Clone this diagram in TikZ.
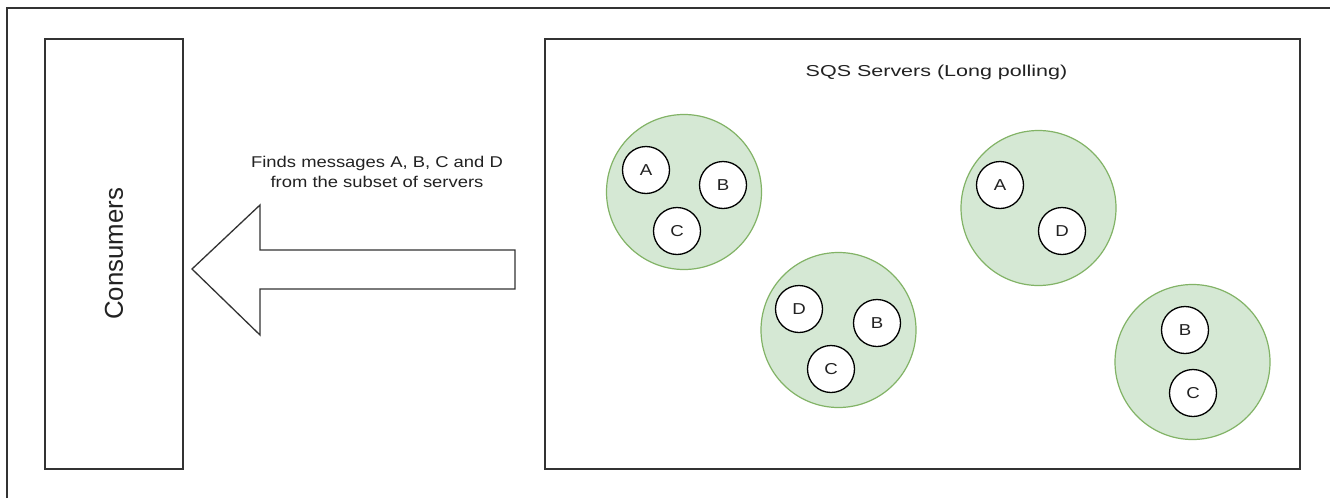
\documentclass[tikz,border=0pt]{standalone}
\usepackage{fontspec}
\setmainfont{Liberation Sans}
\newfontfamily\lblfont[FakeStretch=1.18]{Liberation Sans}
\newfontfamily\ttlfont[FakeStretch=1.36]{Liberation Sans}
\definecolor{edge}{HTML}{333333}
\definecolor{txt}{HTML}{222222}
\definecolor{srvfill}{HTML}{D5E8D4}
\definecolor{srvline}{HTML}{82B366}
\tikzset{
  frame/.style={draw=edge, line width=1.3pt},
  box/.style={draw=edge, line width=1.3pt, fill=white, inner sep=0pt},
  server/.style={circle, draw=srvline, fill=srvfill, line width=1.2pt, minimum size=155pt, inner sep=0pt},
  msg/.style={circle, draw=black, fill=white, line width=1.3pt, minimum size=47pt, inner sep=0pt,
              text=txt, font=\lblfont\fontsize{15.8}{18}\selectfont},
  bigarrow/.style={draw=edge, line width=1.3pt, fill=white, line join=miter},
}
\begin{document}
\begin{tikzpicture}[x=1pt, y=-1pt]
\useasboundingbox (0,0) rectangle (1330,498);
\fill[white] (0,0) rectangle (1330,498);
% outer frame (top and left edges)
\coordinate (fbl) at (7,498);
\coordinate (ftl) at (7,8);
\coordinate (ftr) at (1330,8);
\draw[frame] (fbl) -- (ftl) -- (ftr);

% consumers box
\node[box, minimum width=138pt, minimum height=430pt] (cons) at (114,254) {};
\node[rotate=90, text=txt, font=\fontsize{25.8}{30}\selectfont, inner sep=0pt] (consLabel) at (cons.center) {Consumers};

% SQS box
\node[box, minimum width=755pt, minimum height=430pt] (sqs) at (922.5,254) {};
\node[text=txt, font=\ttlfont\fontsize{15.8}{19}\selectfont, anchor=base, inner sep=0pt] (sqsTitle) at (936.5,76) {SQS Servers (Long polling)};

% block arrow
\draw[bigarrow] (515,250) -- (260,250) -- (260,205) -- (192,269) -- (260,335) -- (260,289) -- (515,289) -- cycle;
\node[text=txt, font=\lblfont\fontsize{15.6}{20}\selectfont, align=center, anchor=north, inner sep=0pt] (arrowLabel) at (377,156)
  {Finds messages A, B, C and D\\from the subset of servers};

% servers
\node[server] (s1) at (684,192) {};
\node[msg] (s1a) at (646,170) {A};
\node[msg] (s1b) at (723,185) {B};
\node[msg] (s1c) at (677,231) {C};

\node[server] (s2) at (838.5,330) {};
\node[msg] (s2d) at (799,309) {D};
\node[msg] (s2b) at (877,323) {B};
\node[msg] (s2c) at (831,369) {C};

\node[server] (s3) at (1038.5,208) {};
\node[msg] (s3a) at (1000,185) {A};
\node[msg] (s3d) at (1062,231) {D};

\node[server] (s4) at (1192.5,362) {};
\node[msg] (s4b) at (1185,330) {B};
\node[msg] (s4c) at (1193,393) {C};
\end{tikzpicture}
\end{document}
